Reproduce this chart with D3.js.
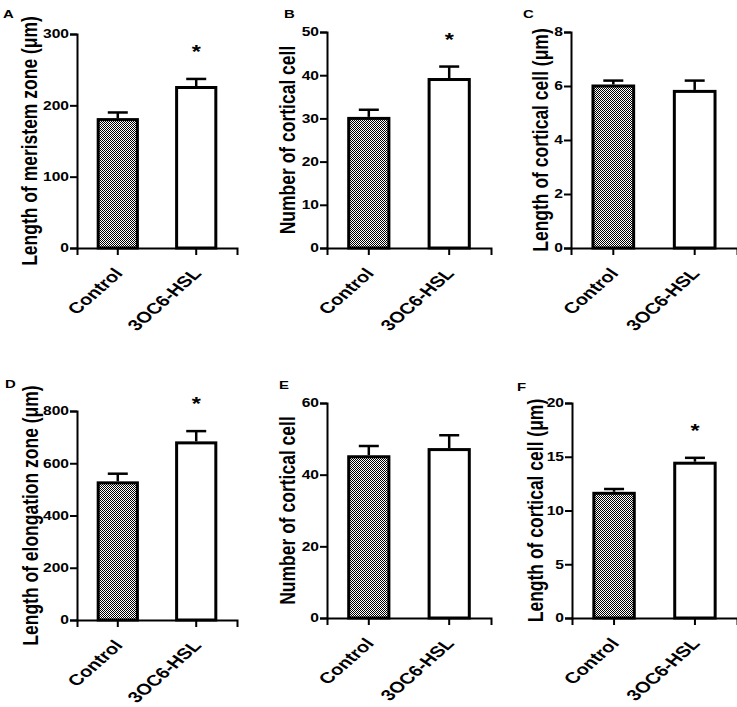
<!DOCTYPE html>
<html>
<head>
<meta charset="utf-8">
<script src="https://cdn.jsdelivr.net/npm/d3@7"></script>
<style>
	body { margin: 0; background: #fff; }
	svg text { font-family: "Liberation Sans", Arial, sans-serif; font-weight: bold; fill: #000; }
</style>
</head>
<body>
<svg id="chart" width="737" height="707"></svg>
<script>
	var categories = ['Control', '3OC6-HSL'];
	var panelLetters = ['A', 'B', 'C', 'D', 'E', 'F'];
	var yLabels = [
		'Length of meristem zone (\u03bcm)',
		'Number of cortical cell',
		'Length of cortical cell (\u03bcm)',
		'Length of elongation zone (\u03bcm)',
		'Number of cortical cell',
		'Length of cortical cell (\u03bcm)'
	];
	var controlMeans = [180, 30, 6.0, 525, 45, 11.6];
	var controlErrors = [10, 2, 0.2, 35, 3, 0.4];
	var treatedMeans = [225, 39, 5.8, 678, 47, 14.4];
	var treatedErrors = [12, 3, 0.4, 45, 4, 0.5];
	var yMax = [300, 50, 8, 800, 60, 20];
	var yStep = [100, 10, 2, 200, 20, 5];
	var significant = [true, true, false, true, false, true];

	// where each little chart sits on the page
	var layout = [
		{axisX: 77, xEnd: 237, top: 34, bottom: 248, labelX: 37, letterX: 3, letterY: 18},
		{axisX: 327, xEnd: 491, top: 32, bottom: 248, labelX: 295, letterX: 284, letterY: 18},
		{axisX: 571, xEnd: 737, top: 32, bottom: 248, labelX: 548, letterX: 523, letterY: 18},
		{axisX: 77, xEnd: 237, top: 411, bottom: 620, labelX: 38, letterX: 5, letterY: 388},
		{axisX: 327, xEnd: 491, top: 403, bottom: 618, labelX: 295, letterX: 279, letterY: 389},
		{axisX: 572, xEnd: 737, top: 403, bottom: 618, labelX: 543, letterX: 517, letterY: 391}
	];

	// the figure is wider than tall, so the text is stretched sideways too
	var stretch = 'scale(1.3,1)';

	var svg = d3.select('#chart');

	var defs = svg.append('defs');
	var checker = defs.append('pattern')
		.attr('id', 'checker')
		.attr('patternUnits', 'userSpaceOnUse')
		.attr('width', 2)
		.attr('height', 2);
	checker.append('rect').attr('width', 2).attr('height', 2).attr('fill', '#fff');
	checker.append('rect').attr('x', 0).attr('y', 0).attr('width', 1).attr('height', 1).attr('fill', '#000');
	checker.append('rect').attr('x', 1).attr('y', 1).attr('width', 1).attr('height', 1).attr('fill', '#000');

	function drawPanel(i){
		var box = layout[i];
		var dataset = [
			{name: categories[0], mean: controlMeans[i], err: controlErrors[i], fill: 'url(#checker)'},
			{name: categories[1], mean: treatedMeans[i], err: treatedErrors[i], fill: '#fff'}
		];

		var x = d3.scaleBand()
			.domain(categories)
			.range([box.axisX, box.xEnd])
			.paddingInner(0.5)
			.paddingOuter(0.27);
		var y = d3.scaleLinear()
			.domain([0, yMax[i]])
			.range([box.bottom, box.top]);

		var g = svg.append('g');

		g.selectAll('rect.bar')
			.data(dataset)
			.enter()
			.append('rect')
			.attr('class', 'bar')
			.attr('x', function(d){ return x(d.name); })
			.attr('y', function(d){ return y(d.mean); })
			.attr('width', x.bandwidth())
			.attr('height', function(d){ return y(0) - y(d.mean); })
			.attr('fill', function(d){ return d.fill; })
			.attr('stroke', '#000')
			.attr('stroke-width', 3);

		// error bars, only the upper half shows
		var cap = 10;
		g.selectAll('line.err')
			.data(dataset)
			.enter()
			.append('line')
			.attr('class', 'err')
			.attr('x1', function(d){ return x(d.name) + x.bandwidth() / 2; })
			.attr('x2', function(d){ return x(d.name) + x.bandwidth() / 2; })
			.attr('y1', function(d){ return y(d.mean) - 1.5; })
			.attr('y2', function(d){ return y(d.mean + d.err); })
			.attr('stroke', '#000')
			.attr('stroke-width', 2.5);
		g.selectAll('line.cap')
			.data(dataset)
			.enter()
			.append('line')
			.attr('class', 'cap')
			.attr('x1', function(d){ return x(d.name) + x.bandwidth() / 2 - cap; })
			.attr('x2', function(d){ return x(d.name) + x.bandwidth() / 2 + cap; })
			.attr('y1', function(d){ return y(d.mean + d.err); })
			.attr('y2', function(d){ return y(d.mean + d.err); })
			.attr('stroke', '#000')
			.attr('stroke-width', 2.5);

		if(significant[i]){
			var t = dataset[1];
			g.append('text')
				.attr('transform', 'translate(' + (x(t.name) + x.bandwidth() / 2) + ',' + (y(t.mean + t.err) - 21) + ') ' + stretch)
				.attr('text-anchor', 'middle')
				.attr('font-size', '18px')
				.text('*');
		}

		var yAxis = g.append('g')
			.attr('transform', 'translate(' + box.axisX + ',0)')
			.call(d3.axisLeft(y).tickValues(d3.range(0, yMax[i] + yStep[i] / 2, yStep[i])).tickSizeOuter(0).tickSize(7));
		yAxis.selectAll('text')
			.attr('font-size', '12px')
			.attr('font-family', null)
			.attr('x', null)
			.attr('transform', 'translate(-8,0) ' + stretch);

		var xAxis = g.append('g')
			.attr('transform', 'translate(0,' + box.bottom + ')')
			.call(d3.axisBottom(x).tickSizeOuter(0).tickSize(7));
		xAxis.selectAll('text')
			.attr('font-size', '15.5px')
			.attr('font-family', null)
			.attr('text-anchor', 'end')
			.attr('dy', null)
			.attr('y', null)
			.attr('transform', 'translate(6,26) ' + stretch + ' rotate(-49)');

		g.selectAll('.domain, .tick line')
			.attr('stroke', '#000')
			.attr('stroke-width', 2);

		g.append('text')
			.attr('transform', 'translate(' + box.labelX + ',' + ((box.top + box.bottom) / 2) + ') ' + stretch + ' rotate(-90)')
			.attr('text-anchor', 'middle')
			.attr('font-size', '17.5px')
			.text(yLabels[i]);

		g.append('text')
			.attr('transform', 'translate(' + box.letterX + ',' + box.letterY + ') ' + stretch)
			.attr('font-size', '11.5px')
			.text(panelLetters[i]);
	}

	d3.range(6).forEach(drawPanel);
</script>
</body>
</html>
